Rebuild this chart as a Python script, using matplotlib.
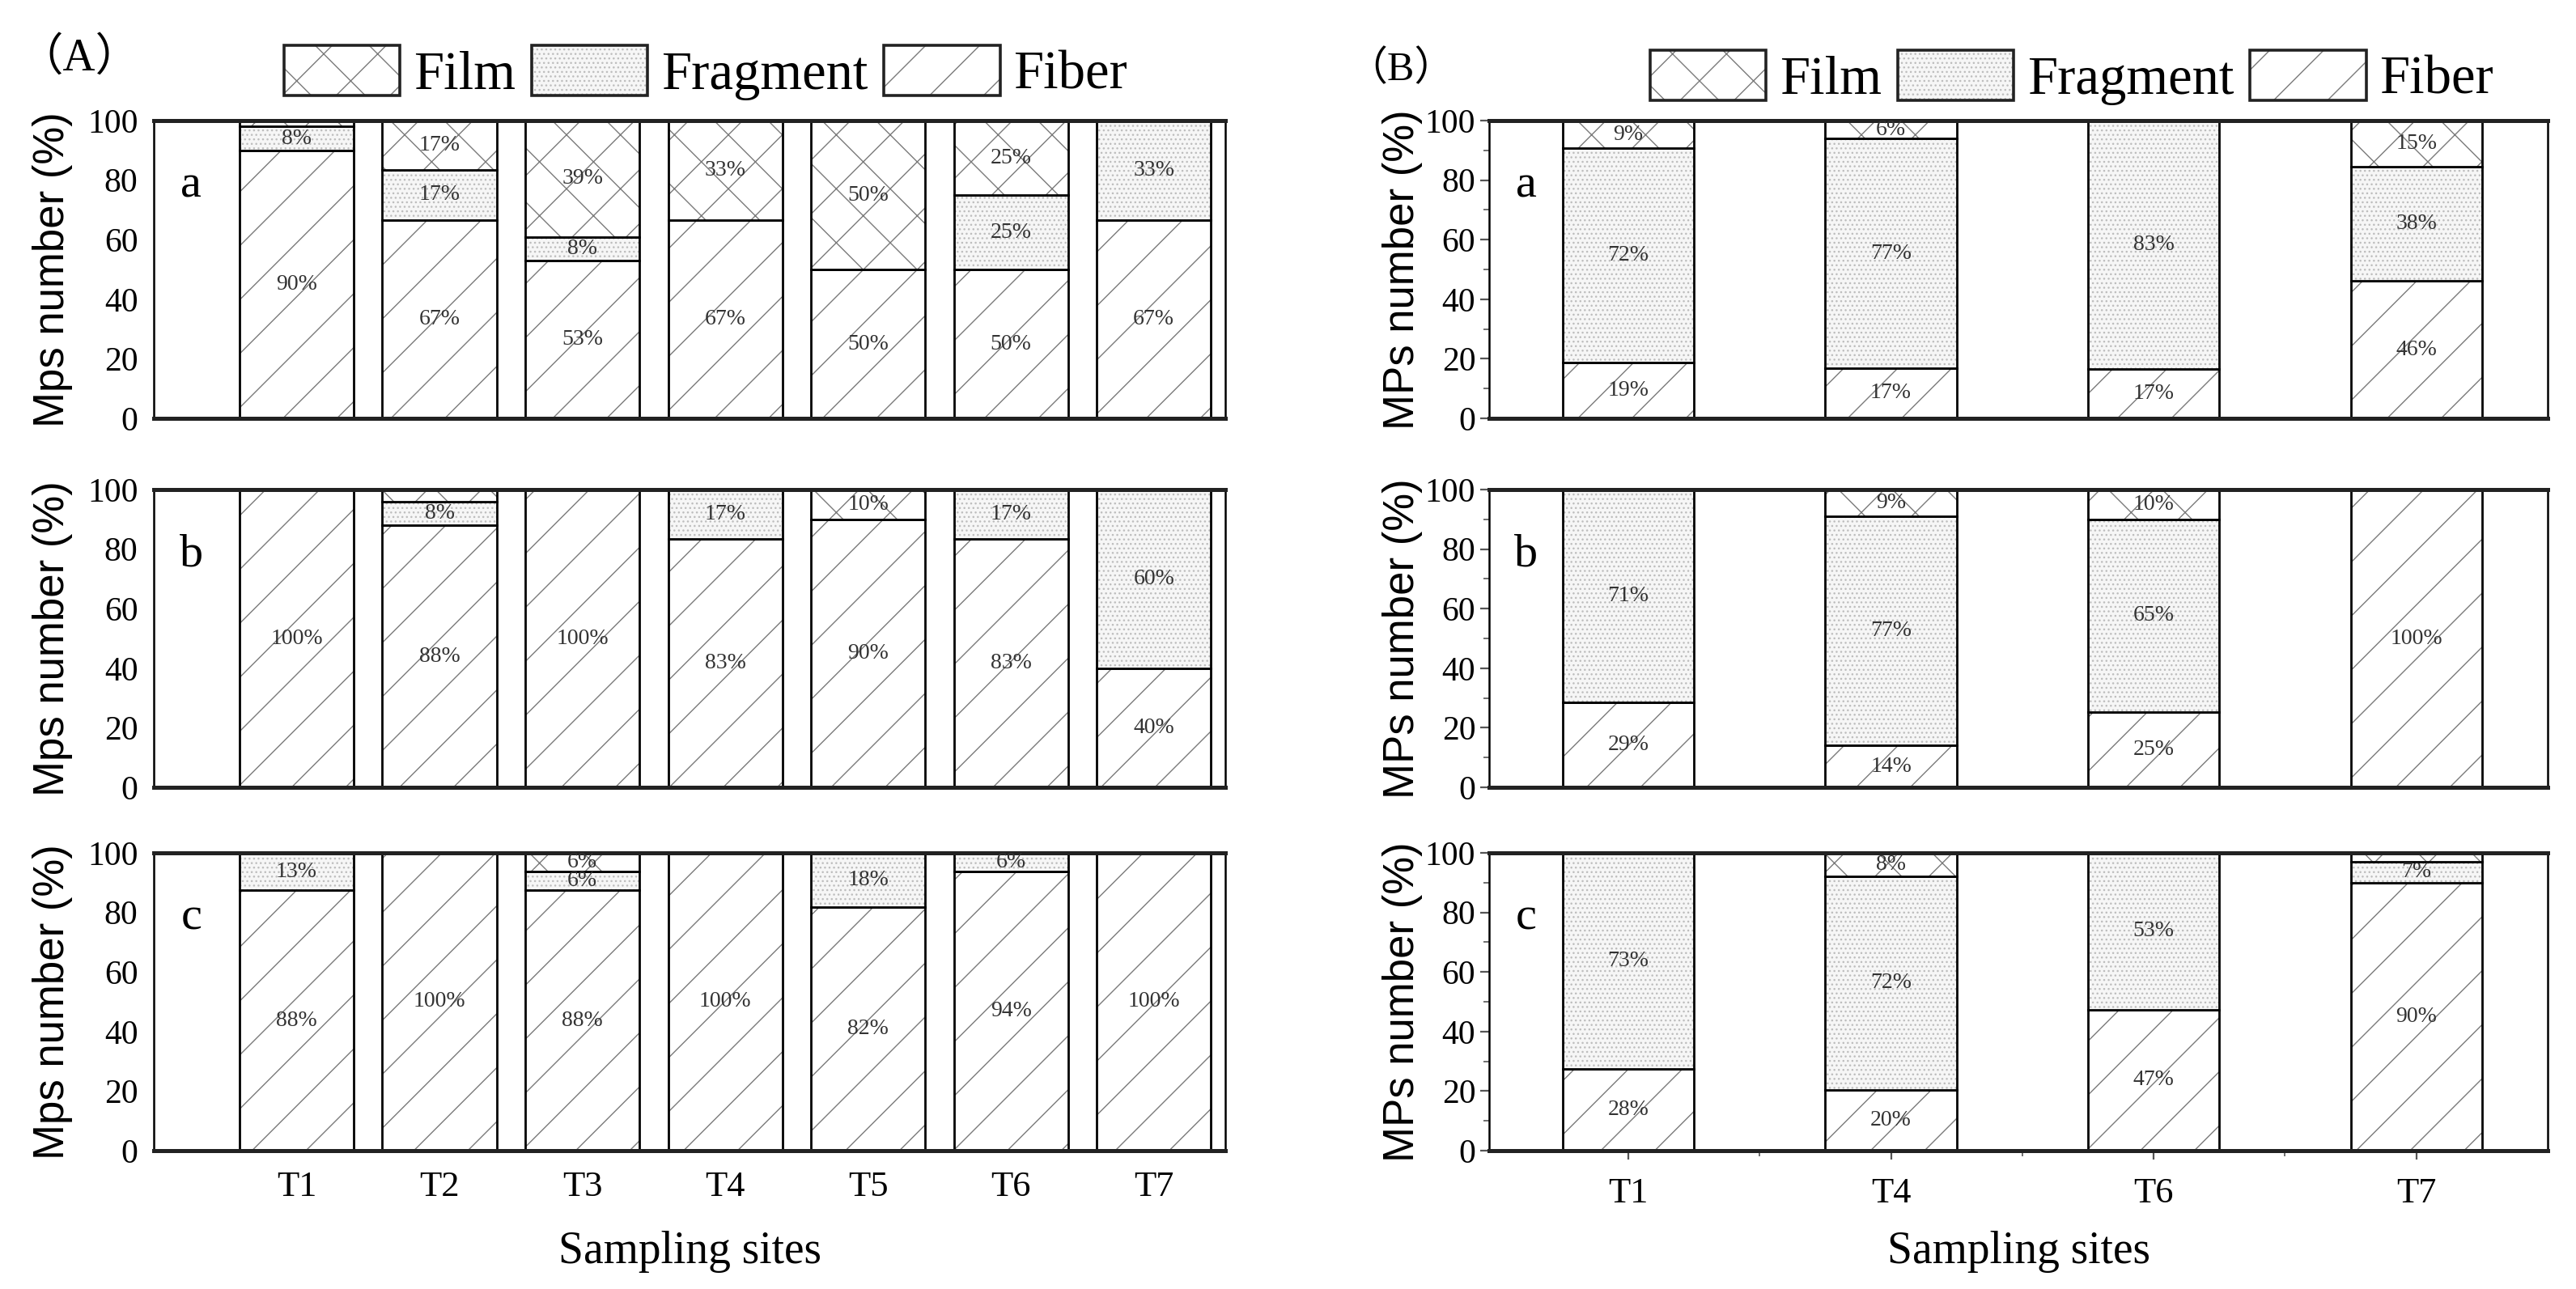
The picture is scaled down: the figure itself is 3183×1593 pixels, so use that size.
import matplotlib
matplotlib.use("Agg")
import matplotlib.pyplot as plt
import numpy as np
from matplotlib.patches import Patch
from matplotlib.legend_handler import HandlerTuple

plt.rcParams["font.family"] = ["Liberation Serif", "Noto Sans CJK SC"]
plt.rcParams["hatch.linewidth"] = 0.5

# ---- data (percent of MPs number) ----
sites_a = ["T1", "T2", "T3", "T4", "T5", "T6", "T7"]
sites_b = ["T1", "T4", "T6", "T7"]

# (A) panels a, b, c
fiber_Aa = [90, 66.7, 53, 66.7, 50, 50, 66.7]
frag_Aa = [8, 16.7, 8, 0, 0, 25, 33.3]
film_Aa = [2, 16.6, 39, 33.3, 50, 25, 0]

fiber_Ab = [100, 88, 100, 83.3, 90, 83.3, 40]
frag_Ab = [0, 8, 0, 16.7, 0, 16.7, 60]
film_Ab = [0, 4, 0, 0, 10, 0, 0]

fiber_Ac = [87.5, 100, 87.5, 100, 81.8, 93.8, 100]
frag_Ac = [12.5, 0, 6.25, 0, 18.2, 6.2, 0]
film_Ac = [0, 0, 6.25, 0, 0, 0, 0]

# (B) panels a, b, c
fiber_Ba = [18.8, 16.9, 16.7, 46.15]
frag_Ba = [71.9, 77.0, 83.3, 38.46]
film_Ba = [9.3, 6.1, 0, 15.39]

fiber_Bb = [28.6, 14.0, 25.3, 100]
frag_Bb = [71.4, 77.0, 64.7, 0]
film_Bb = [0, 9.0, 10.0, 0]

fiber_Bc = [27.5, 20.4, 47.4, 90]
frag_Bc = [72.5, 71.8, 52.6, 7]
film_Bc = [0, 7.8, 0, 3]

panel_letters = ["a", "b", "c"]

HATCH_COL = "#7a7a7a"
DOT_COL = "#bdbdbd"

W, H = 3183, 1593
fig = plt.figure(figsize=(W / 200, H / 200), dpi=200)


def stacked(ax, pos, width, fiber, frag, film):
    bottoms = np.zeros(len(pos))
    layers = [(fiber, "/", "white", HATCH_COL),
              (frag, "......", "#f6f6f6", DOT_COL),
              (film, "x", "white", HATCH_COL)]
    for vals, hatch, fc, hc in layers:
        vals = np.asarray(vals, dtype=float)
        ax.bar(pos, vals, width, bottom=bottoms, color=fc, hatch=hatch,
               edgecolor=hc, linewidth=0)
        ax.bar(pos, vals, width, bottom=bottoms, fill=False,
               edgecolor="black", linewidth=1.0)
        for x, v, b in zip(pos, vals, bottoms):
            if v >= 5:
                ax.text(x, b + v / 2, f"{int(v + 0.5)}%", ha="center", va="center",
                        fontsize=10, color="#333333")
        bottoms = bottoms + vals


def style(ax, letter, ylabel, show_x, labels, panel_b):
    ax.set_ylim(0, 100)
    ax.set_yticks([0, 20, 40, 60, 80, 100])
    ax.tick_params(axis="y", labelsize=15)
    ax.tick_params(axis="x", labelsize=16)
    for s in ["top", "bottom"]:
        ax.spines[s].set_linewidth(1.8)
        ax.spines[s].set_color("#222222")
    for s in ["left", "right"]:
        ax.spines[s].set_linewidth(0.9)
    if panel_b:
        ax.set_yticks([10, 30, 50, 70, 90], minor=True)
        ax.tick_params(axis="both", which="major", direction="out", length=4,
                       color="#555555", pad=2)
        ax.tick_params(axis="both", which="minor", direction="out", length=2.5,
                       color="#555555")
        ax.yaxis.set_label_coords(-0.063, 0.5)
    else:
        ax.tick_params(axis="both", which="both", length=0, pad=7)
        ax.yaxis.set_label_coords(-0.0755, 0.5)
    ax.set_ylabel(ylabel, family="Liberation Sans", fontsize=19)
    ax.text(0.035, 0.78, letter, transform=ax.transAxes, fontsize=21,
            ha="center", va="center")
    if show_x:
        ax.set_xticklabels(labels)
        ax.tick_params(axis="x", pad=9 if not panel_b else 8)
        ax.set_xlabel("Sampling sites", fontsize=20)
        ax.xaxis.set_label_coords(0.5, -0.27)
    else:
        ax.set_xticklabels([])
        if panel_b:
            ax.tick_params(axis="x", which="both", length=0)


rows_bottom = [(H - 517) / H, (H - 973) / H, (H - 1422) / H]
row_h = 368 / H

data_A = [(fiber_Aa, frag_Aa, film_Aa), (fiber_Ab, frag_Ab, film_Ab), (fiber_Ac, frag_Ac, film_Ac)]
data_B = [(fiber_Ba, frag_Ba, film_Ba), (fiber_Bb, frag_Bb, film_Bb), (fiber_Bc, frag_Bc, film_Bc)]

pos_a = np.arange(1, len(sites_a) + 1)
pos_b = np.arange(1, len(sites_b) + 1)

for i in range(3):
    ax = fig.add_axes([190 / W, rows_bottom[i], 1324 / W, row_h])
    stacked(ax, pos_a, 0.8, *data_A[i])
    ax.set_xlim(0.0, 7.5)
    ax.set_xticks(pos_a)
    style(ax, panel_letters[i], "Mps number (%)", i == 2, sites_a, False)

    ax = fig.add_axes([1840 / W, rows_bottom[i], 1308 / W, row_h])
    stacked(ax, pos_b, 0.5, *data_B[i])
    ax.set_xlim(0.47, 4.5)
    ax.set_xticks(pos_b)
    ax.set_xticks(pos_b[:-1] + 0.5, minor=True)
    style(ax, panel_letters[i], "MPs number (%)", i == 2, sites_b, True)

# legends
names = ["Film", "Fragment", "Fiber"]
hatches = [("x", "white", HATCH_COL), ("......", "#f6f6f6", DOT_COL), ("/", "white", HATCH_COL)]
handles = []
for h, fc, hc in hatches:
    handles.append((Patch(facecolor=fc, hatch=h, edgecolor=hc, linewidth=0),
                    Patch(fill=False, edgecolor="#222222", linewidth=1.3)))

for cx, cy in [(872 / W, 1 - 90 / H), (2560 / W, 1 - 96 / H)]:
    fig.legend(handles, names, handler_map={tuple: HandlerTuple(ndivide=1, pad=0)},
               loc="center", bbox_to_anchor=(cx, cy), ncol=3, frameon=False,
               fontsize=24, handlelength=2.15, handleheight=1.06,
               handletextpad=0.25, columnspacing=0.3, borderpad=0, borderaxespad=0)

fig.text(98 / W, 1 - 72 / H, "（A）", fontsize=20, ha="center", va="center")
fig.text(1731 / W, 1 - 86 / H, "（B）", fontsize=18, ha="center", va="center")

fig.savefig("out.png", dpi=200)
